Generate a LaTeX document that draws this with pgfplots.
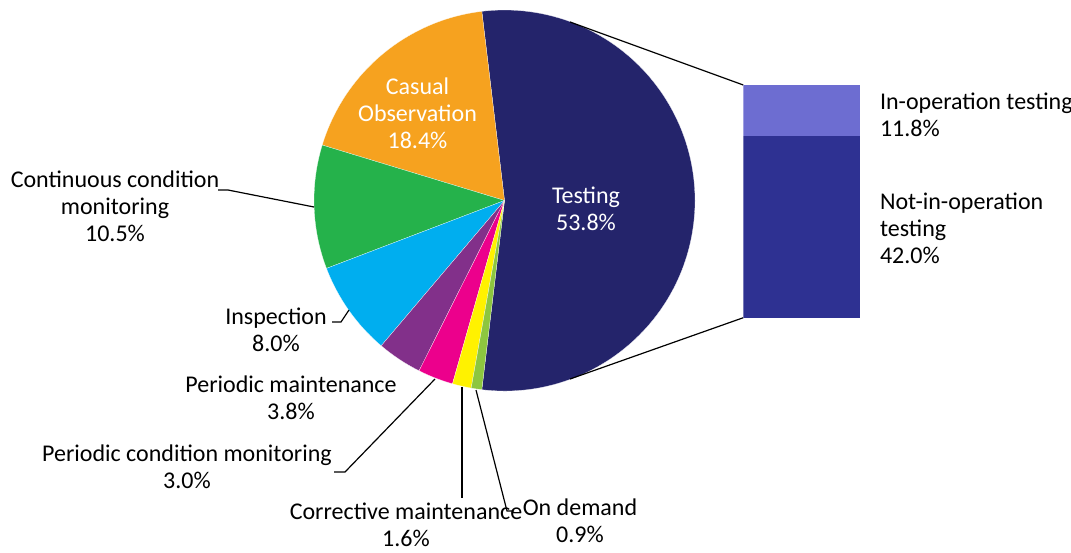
\documentclass[border=0pt]{standalone}
\usepackage{pgfplots}
\usepackage{pgfplotstable}
\pgfplotsset{compat=1.18}
\usepackage{fontspec}
\setmainfont{Carlito}
\definecolor{cTest}{HTML}{24246B}
\definecolor{cCas}{HTML}{F6A21F}
\definecolor{cCon}{HTML}{25B24B}
\definecolor{cIns}{HTML}{00AEEF}
\definecolor{cPM}{HTML}{82308A}
\definecolor{cPCM}{HTML}{EC008C}
\definecolor{cCor}{HTML}{FFF200}
\definecolor{cOD}{HTML}{8DC63F}
\definecolor{cIn}{HTML}{6D6DD1}
\definecolor{cNot}{HTML}{2E3192}
\pgfplotstableread{
name value col
Testing 53.8 cTest
Casual 18.4 cCas
Continuous 10.5 cCon
Inspection 8.0 cIns
PeriodicM 3.8 cPM
PeriodicCM 3.0 cPCM
Corrective 1.6 cCor
OnDemand 0.9 cOD
}\piedata
\pgfplotstableread{
part value
NotInOperation 42.0
InOperation 11.8
}\bardata
\newcommand\lbl{\fontsize{12}{13.5}\selectfont}
\begin{document}
\begin{tikzpicture}
\useasboundingbox (0,0) rectangle (535.5pt,276pt);
\begin{axis}[
  at={(0,0)}, anchor=south west,
  scale only axis, width=535.5pt, height=276pt,
  xmin=0, xmax=1071, ymin=0, ymax=552, y dir=reverse,
  hide axis, clip=false,
]
\pgfplotsextra{
  \xdef\cum{-96.84}
  \foreach \i in {0,...,7} {
    \pgfplotstablegetelem{\i}{value}\of\piedata \let\v\pgfplotsretval
    \pgfplotstablegetelem{\i}{col}\of\piedata \let\c\pgfplotsretval
    \pgfmathsetmacro\a{\cum}
    \pgfmathsetmacro\b{\cum+3.6*\v}
    \xdef\cum{\b}
    \fill[fill=\c, draw=white, line width=0.1pt] (axis cs:504.5,200.5) -- ++(\a:95.25pt) arc[start angle=\a, end angle=\b, radius=95.25pt] -- cycle;
  }
}
% connectors
\draw[line width=0.6pt] (axis cs:570,22) -- (axis cs:743.3,85);
\draw[line width=0.6pt] (axis cs:570,379) -- (axis cs:743.3,317.7);
% leaders
\draw[line width=0.6pt] (axis cs:218,190) -- (axis cs:228,190) -- (axis cs:314,207);
\draw[line width=0.6pt] (axis cs:332,322) -- (axis cs:341,322) -- (axis cs:349,310);
\draw[line width=0.6pt] (axis cs:334,472) -- (axis cs:345,472) -- (axis cs:435,379);
\draw[line width=0.6pt] (axis cs:462,387) -- (axis cs:462,498);
\draw[line width=0.6pt] (axis cs:476,390) -- (axis cs:507,511) -- (axis cs:514,511);
% labels
\node[white, align=center, font=\lbl] at (axis cs:586,209) {Testing\\53.8\%};
\node[white, align=center, font=\lbl] at (axis cs:417.5,113) {Casual\\Observation\\18.4\%};
\node[align=center, font=\lbl] at (axis cs:115,206) {Continuous condition\\monitoring\\10.5\%};
\node[align=center, font=\lbl] at (axis cs:276,330) {Inspection\\8.0\%};
\node[align=center, font=\lbl] at (axis cs:291,398) {Periodic maintenance\\3.8\%};
\node[align=center, font=\lbl] at (axis cs:187,467) {Periodic condition monitoring\\3.0\%};
\node[align=center, font=\lbl] at (axis cs:406,525) {Corrective maintenance\\1.6\%};
\node[align=center, font=\lbl] at (axis cs:580,521) {On demand\\0.9\%};
\node[align=left, anchor=west, font=\lbl] at (axis cs:873,115) {In-operation testing\\11.8\%};
\node[align=left, anchor=west, font=\lbl] at (axis cs:873,228) {Not-in-operation\\testing\\42.0\%};
\end{axis}
\begin{axis}[
  at={(371.65pt,117.15pt)}, anchor=south west,
  scale only axis, width=58.35pt, height=116.35pt,
  xmin=-0.5, xmax=0.5, ymin=0, ymax=53.8,
  hide axis, ybar stacked, bar width=58.35pt,
]
\addplot[fill=cNot, draw=none] table[x expr=0, y=value, skip coords between index={1}{2}] {\bardata};
\addplot[fill=cIn, draw=none] table[x expr=0, y=value, skip coords between index={0}{1}] {\bardata};
\end{axis}
\end{tikzpicture}
\end{document}
